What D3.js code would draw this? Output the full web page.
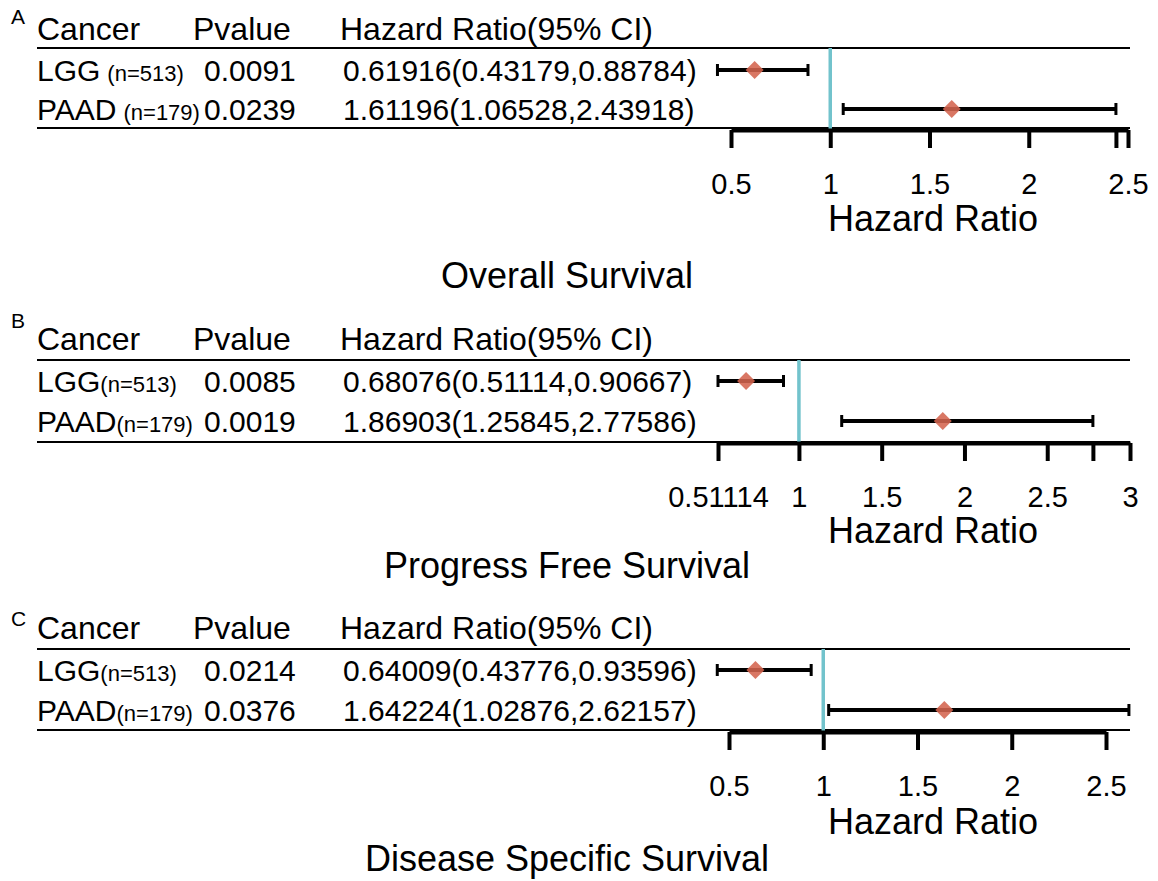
<!DOCTYPE html>
<html>
<head>
<meta charset="utf-8">
<script src="https://cdn.jsdelivr.net/npm/d3@7"></script>
<style>
  body { margin: 0; background: #fff; }
  svg { display: block; font-family: Arial, 'Liberation Sans', sans-serif; }
</style>
</head>
<body>
<svg id="chart"></svg>
<script>
const panelLetters = ['A', 'B', 'C']
const survivalTypes = ['Overall Survival', 'Progress Free Survival', 'Disease Specific Survival']
const cancers = ['LGG', 'PAAD']
const sampleSizes = ['(n=513)', '(n=179)']
const pValues = [['0.0091', '0.0239'], ['0.0085', '0.0019'], ['0.0214', '0.0376']]
const hazardRatios = [[0.61916, 1.61196], [0.68076, 1.86903], [0.64009, 1.64224]]
const lowerCI = [[0.43179, 1.06528], [0.51114, 1.25845], [0.43776, 1.02876]]
const upperCI = [[0.88784, 2.43918], [0.90667, 2.77586], [0.93596, 2.62157]]
const axisDomains = [[0.5, 2.5], [0.51114, 3], [0.5, 2.5]]
const tickValues = [[0.5, 1, 1.5, 2, 2.43918, 2.5], [0.51114, 1, 1.5, 2, 2.5, 2.77586, 3], [0.5, 1, 1.5, 2, 2.5]]
const tickLabels = [['0.5', '1', '1.5', '2', '', '2.5'], ['0.51114', '1', '1.5', '2', '2.5', '', '3'], ['0.5', '1', '1.5', '2', '2.5']]

const w = 1158
const h = 881
const svg = d3.select('#chart').attr('width', w).attr('height', h)

// per-panel layout (pixels)
const layout = [
  { letterY: 24, headY: 40, top: 48, rows: [70, 109], bottom: 128, axisY: 130, range: [731, 1128], labelY: 231, titleY: 288 },
  { letterY: 328, headY: 350, top: 360, rows: [381, 421], bottom: 442, axisY: 443, range: [718, 1130], labelY: 543, titleY: 578 },
  { letterY: 626, headY: 639, top: 649, rows: [670, 710], bottom: 730, axisY: 732, range: [729, 1106], labelY: 834, titleY: 871 }
]
const smallGap = [true, false, false]

panelLetters.forEach((letter, p) => {
  const L = layout[p]
  const g = svg.append('g')
  const x = d3.scaleLinear().domain(axisDomains[p]).range(L.range)

  g.append('text').attr('x', 11).attr('y', L.letterY).attr('font-size', 21).text(letter)

  const head = g.append('g').attr('font-size', 32)
  head.append('text').attr('x', 37).attr('y', L.headY).text('Cancer')
  head.append('text').attr('x', 193).attr('y', L.headY).text('Pvalue')
  head.append('text').attr('x', 340).attr('y', L.headY).text('Hazard Ratio(95% CI)')

  g.append('line').attr('x1', 37).attr('x2', 1130).attr('y1', L.top).attr('y2', L.top)
    .attr('stroke', '#000').attr('stroke-width', 2)
  g.append('line').attr('x1', 37).attr('x2', 1130).attr('y1', L.bottom).attr('y2', L.bottom)
    .attr('stroke', '#000').attr('stroke-width', 2)

  cancers.forEach((c, i) => {
    const y = L.rows[i] + 11
    const t = g.append('text').attr('x', 37).attr('y', y).attr('font-size', 30)
    t.append('tspan').text(c)
    t.append('tspan').attr('font-size', 22).attr('dx', smallGap[p] ? 7 : 0).text(sampleSizes[i])
    g.append('text').attr('x', 204).attr('y', y).attr('font-size', 30).text(pValues[p][i])
    g.append('text').attr('x', 343).attr('y', y).attr('font-size', 30)
      .text(`${hazardRatios[p][i].toFixed(5)}(${lowerCI[p][i].toFixed(5)},${upperCI[p][i].toFixed(5)})`)
  })

  // reference line at HR = 1
  g.append('line').attr('x1', x(1)).attr('x2', x(1)).attr('y1', L.top).attr('y2', L.bottom + 2)
    .attr('stroke', '#72c3cc').attr('stroke-width', 3.5)

  const rows = cancers.map((c, i) => ({ y: L.rows[i], hr: hazardRatios[p][i], lo: lowerCI[p][i], hi: upperCI[p][i] }))
  const bars = g.selectAll('g.bar').data(rows).enter().append('g').attr('class', 'bar')
  bars.append('line').attr('x1', d => x(d.lo)).attr('x2', d => x(d.hi))
    .attr('y1', d => d.y).attr('y2', d => d.y).attr('stroke', '#000').attr('stroke-width', 4)
  bars.append('line').attr('x1', d => x(d.lo)).attr('x2', d => x(d.lo))
    .attr('y1', d => d.y - 6).attr('y2', d => d.y + 6).attr('stroke', '#000').attr('stroke-width', 3)
  bars.append('line').attr('x1', d => x(d.hi)).attr('x2', d => x(d.hi))
    .attr('y1', d => d.y - 6).attr('y2', d => d.y + 6).attr('stroke', '#000').attr('stroke-width', 3)
  bars.append('path')
    .attr('d', d => `M${x(d.hr)},${d.y - 9}L${x(d.hr) + 9},${d.y}L${x(d.hr)},${d.y + 9}L${x(d.hr) - 9},${d.y}Z`)
    .attr('fill', '#d4644f').attr('fill-opacity', 0.88)

  const xAxis = d3.axisBottom(x)
                  .tickValues(tickValues[p])
                  .tickFormat((d, i) => tickLabels[p][i])
                  .tickSize(18)
                  .tickSizeOuter(0)
                  .tickPadding(25)
  const ax = g.append('g')
              .attr('transform', 'translate(0,' + L.axisY + ')')
              .call(xAxis)
  ax.select('.domain').attr('stroke-width', 4).attr('stroke', '#000')
  ax.selectAll('.tick line').attr('stroke-width', 4).attr('stroke', '#000')
  ax.selectAll('.tick text').attr('font-size', 29).attr('font-family', "Arial, 'Liberation Sans', sans-serif").attr('fill', '#000')

  g.append('text').attr('x', 933).attr('y', L.labelY).attr('text-anchor', 'middle')
    .attr('font-size', 36).text('Hazard Ratio')
  g.append('text').attr('x', 567).attr('y', L.titleY).attr('text-anchor', 'middle')
    .attr('font-size', 36).text(survivalTypes[p])
})
</script>
</body>
</html>
